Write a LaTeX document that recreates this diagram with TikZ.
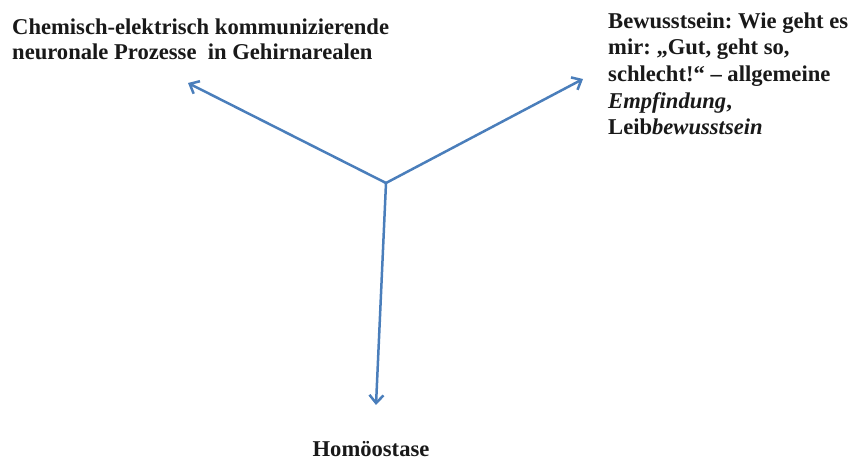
\documentclass[tikz,border=0pt]{standalone}
\usepackage{fontspec}
\setmainfont{Liberation Serif}
\usetikzlibrary{arrows.meta}
\definecolor{arrowblue}{HTML}{4A7EBB}
\frenchspacing
\tikzset{
  conn/.style={draw=arrowblue, line width=2.5pt, -{Straight Barb[length=8pt,width=14pt,line width=2.5pt]}},
  label/.style={font=\bfseries\fontsize{22.6}{26.5}\selectfont, align=left, inner sep=0pt, text=black!90}
}
\begin{document}
\begin{tikzpicture}[x=1pt,y=1pt]
\useasboundingbox (0,0) rectangle (853,460);
\coordinate (c) at (386,277);
\coordinate (l) at (188,377);
\coordinate (r) at (583,381);
\coordinate (b) at (376,55);
\draw[conn] (c) -- (l);
\draw[conn] (c) -- (r);
\draw[conn] (c) -- (b);
\node[label, anchor=base west] (t1) at (12,425) {Chemisch-elektrisch kommunizierende};
\node[label, anchor=base west] (t2) at (12,400) {neuronale Prozesse\ \ in Gehirnarealen};
\node[label, anchor=base west] (r1) at (608,431) {Bewusstsein: Wie geht es};
\node[label, anchor=base west] (r2) at (608,405) {mir: „Gut, geht so,};
\node[label, anchor=base west] (r3) at (608,378) {schlecht!“ – allgemeine};
\node[label, anchor=base west] (r4) at (608,351) {\itshape Empfindung\upshape ,};
\node[label, anchor=base west] (r5) at (608,325) {Leib\itshape bewusstsein};
\node[label, anchor=base] (h) at (371,4) {Homöostase};
\end{tikzpicture}
\end{document}
